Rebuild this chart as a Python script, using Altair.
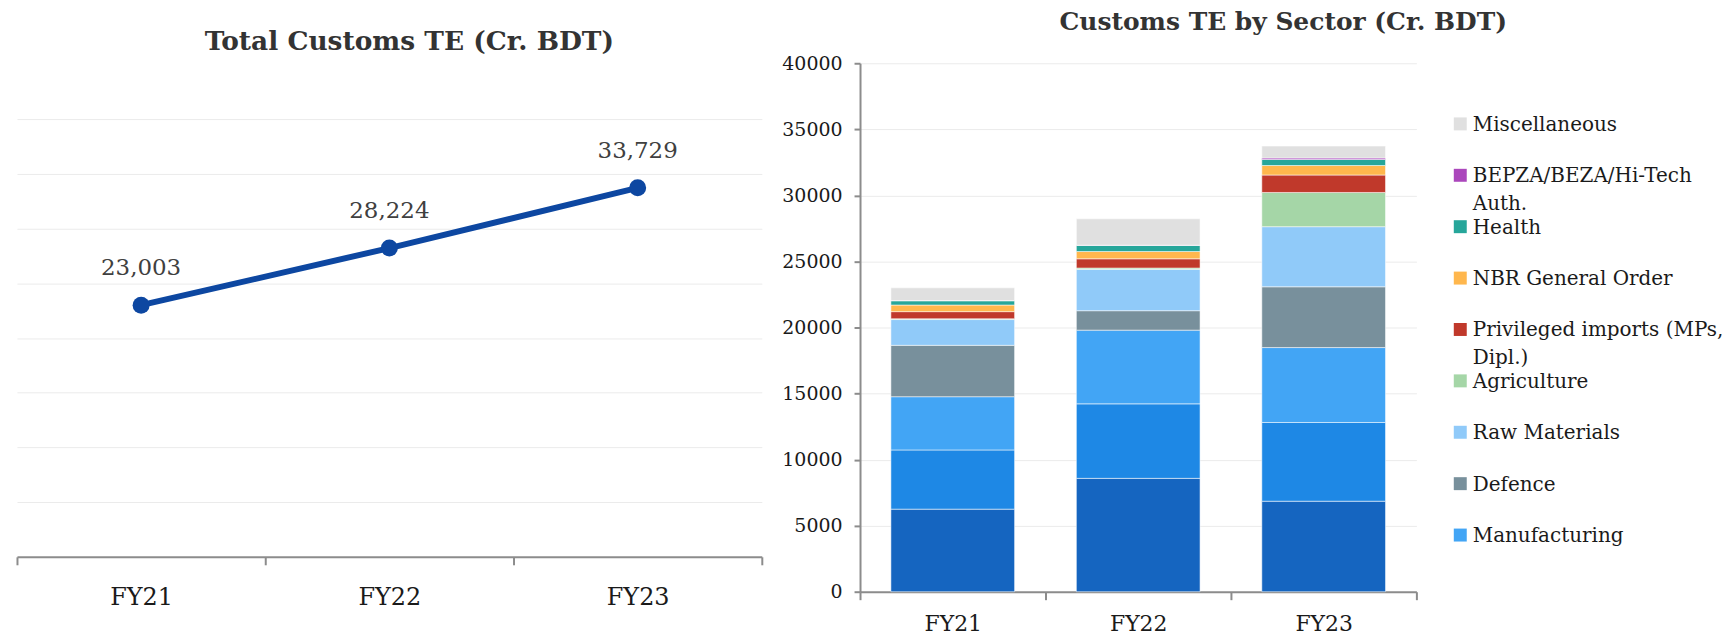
import altair as alt
import pandas as pd

FONT = "DejaVu Serif"

# ---------------- data ----------------
years = ["FY21", "FY22", "FY23"]
total_te = [23003, 28224, 33729]

sectors = [
    "Other A",
    "Other B",
    "Manufacturing",
    "Defence",
    "Raw Materials",
    "Agriculture",
    "Privileged imports (MPs, Dipl.)",
    "NBR General Order",
    "Health",
    "BEPZA/BEZA/Hi-Tech Auth.",
    "Miscellaneous",
]
sector_colors = [
    "#1565C0", "#1E88E5", "#42A5F5", "#78909C", "#90CAF9", "#A5D6A7",
    "#C0392B", "#FFB74D", "#26A69A", "#AB47BC", "#E0E0E0",
]
fy21 = [6250, 4480, 4030, 3890, 1950, 60, 540, 500, 320, 20, 963]
fy22 = [8580, 5640, 5580, 1470, 3130, 100, 700, 550, 460, 20, 1994]
fy23 = [6850, 5960, 5670, 4600, 4550, 2590, 1320, 720, 460, 110, 899]

legend_sectors = [
    "Miscellaneous", "BEPZA/BEZA/Hi-Tech Auth.", "Health", "NBR General Order",
    "Privileged imports (MPs, Dipl.)", "Agriculture", "Raw Materials",
    "Defence", "Manufacturing",
]
legend_labels = [
    "Miscellaneous", "BEPZA/BEZA/Hi-Tech\nAuth.", "Health", "NBR General Order",
    "Privileged imports (MPs,\nDipl.)", "Agriculture", "Raw Materials",
    "Defence", "Manufacturing",
]
grid_values = [0, 5000, 10000, 15000, 20000, 25000, 30000, 35000, 40000]

# ---------------- tables ----------------
total_df = pd.DataFrame({
    "year": years,
    "total": total_te,
    "label": [f"{v:,}" for v in total_te],
})

rows = []
for yr, vals in zip(years, [fy21, fy22, fy23]):
    for i, (s, v) in enumerate(zip(sectors, vals)):
        rows.append({"year": yr, "sector": s, "idx": i, "value": v})
sector_df = pd.DataFrame(rows)

leg_df = pd.DataFrame({"sector": legend_sectors, "label": legend_labels})

color_scale = alt.Scale(domain=sectors, range=sector_colors)
AXIS_GRAY = "#8c8c8c"
GRID = "#ebebeb"

# ---------------- left: line ----------------
x_left = alt.X(
    "year:N", sort=years, bandPosition=0.5,
    scale=alt.Scale(type="band", paddingInner=0, paddingOuter=0),
    axis=alt.Axis(title=None, tickBand="extent", labelAngle=0, labelFont=FONT,
                  labelFontSize=24, labelColor="#1a1a1a", labelPadding=21,
                  domainColor=AXIS_GRAY, domainWidth=2, tickColor=AXIS_GRAY,
                  tickWidth=2, tickSize=8, grid=False),
)
y_left = alt.Y(
    "total:Q",
    scale=alt.Scale(domain=[0, 45120], nice=False),
    axis=alt.Axis(title=None, labels=False, ticks=False, domain=False, grid=True,
                  values=grid_values[1:], gridColor=GRID, gridWidth=1),
)
base_left = alt.Chart(total_df).encode(x=x_left, y=y_left)
line = base_left.mark_line(color="#0D47A1", strokeWidth=6)
pts = base_left.mark_circle(color="#0D47A1", size=290, opacity=1)
lbl = base_left.mark_text(font=FONT, fontSize=23, color="#404040", dy=-37,
                          baseline="middle").encode(text="label:N")
left = alt.layer(line, pts, lbl).properties(
    width=747, height=495,
    title=alt.TitleParams("Total Customs TE (Cr. BDT)", font=FONT, fontSize=26.5,
                          fontWeight="bold", color="#333333", anchor="middle",
                          dx=20, offset=8),
)

# ---------------- right: stacked bars ----------------
right = alt.Chart(sector_df).mark_bar(
    width=alt.RelativeBandSize(0.667), stroke="white", strokeWidth=0.75,
    strokeOpacity=0.7,
).encode(
    x=alt.X("year:N", sort=years,
            scale=alt.Scale(type="band", paddingInner=0, paddingOuter=0),
            axis=alt.Axis(title=None, tickBand="extent", labelAngle=0,
                          labelFont=FONT, labelFontSize=22, labelColor="#1a1a1a",
                          labelPadding=14, domainColor=AXIS_GRAY, domainWidth=2,
                          tickColor=AXIS_GRAY, tickWidth=2, tickSize=8,
                          grid=False)),
    y=alt.Y("value:Q", stack="zero",
            scale=alt.Scale(domain=[0, 40000], nice=False),
            axis=alt.Axis(title=None, values=grid_values, format="d",
                          labelFont=FONT, labelFontSize=19, labelColor="#1a1a1a",
                          labelPadding=12, domainColor=AXIS_GRAY, domainWidth=2,
                          tickColor=AXIS_GRAY, tickWidth=2, tickSize=6,
                          grid=True, gridColor=GRID, gridWidth=1)),
    color=alt.Color("sector:N", scale=color_scale, legend=None),
    order=alt.Order("idx:Q", sort="ascending"),
).properties(
    width=558, height=530,
    title=alt.TitleParams("Customs TE by Sector (Cr. BDT)", font=FONT, fontSize=25,
                          fontWeight="bold", color="#333333", anchor="middle",
                          dx=145.5, offset=19),
)

# ---------------- legend ----------------
y_leg = alt.Y("sector:N", sort=legend_sectors, bandPosition=0.5,
              scale=alt.Scale(type="band", paddingInner=0, paddingOuter=0.68),
              axis=None)
sq = alt.Chart(leg_df).mark_square(size=169, opacity=1).encode(
    y=y_leg, x=alt.value(6.5),
    color=alt.Color("sector:N", scale=color_scale, legend=None),
)
tx = alt.Chart(leg_df).mark_text(
    align="left", baseline="top", dy=-9, lineBreak="\n", lineHeight=28,
    font=FONT, fontSize=20, color="#1a1a1a",
).encode(y=y_leg, x=alt.value(19), text="label:N")
legend = alt.layer(sq, tx).properties(width=253, height=534)

inner = alt.hconcat(right, legend, spacing=37.5, bounds="flush")
chart = alt.hconcat(left, inner, spacing=98.5, bounds="flush").properties(
    padding={"left": 8, "top": 1.5, "right": 0, "bottom": 0},
).configure(font=FONT).configure_view(strokeWidth=0, stroke="transparent")

chart.save("out.html", embed_options={"renderer": "svg", "actions": False})
